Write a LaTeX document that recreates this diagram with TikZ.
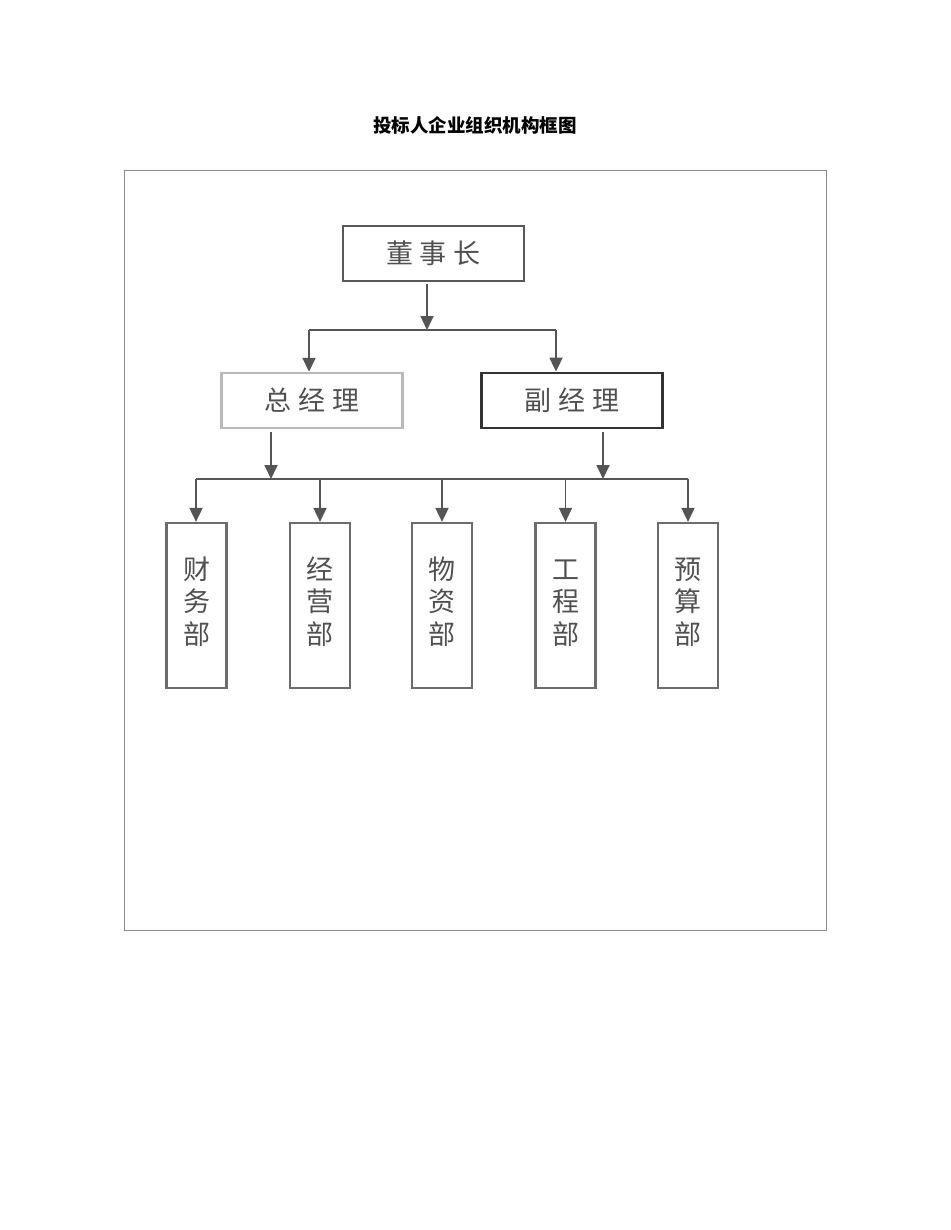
\documentclass[tikz,border=0pt]{standalone}
\usepackage{fontspec}
\newfontfamily\cjk{Noto Sans CJK SC}
\usetikzlibrary{arrows.meta}
\definecolor{linegray}{HTML}{555555}
\definecolor{framegray}{HTML}{8A8A8A}
\definecolor{txtgray}{HTML}{505050}
\newcommand{\vchars}[3]{\raisebox{7pt}{\begin{tabular}{@{}c@{}}#1\\#2\\#3\end{tabular}}}
\tikzset{
  conn/.style={draw=linegray, line width=1.8pt},
  arr/.style={conn, -{Triangle[width=13pt,length=14pt]}, shorten >=0pt},
  topbox/.style={draw=#1, rectangle, line width=2.4pt, minimum width=181pt, minimum height=55pt, inner sep=0pt, font=\cjk\fontsize{27}{30}\selectfont, text=txtgray},
  deptbox/.style={draw=gray!85!black, rectangle, line width=2.2pt, minimum width=60pt, minimum height=165pt, inner sep=0pt, font=\cjk\fontsize{27}{32}\selectfont, text=txtgray},
}
\begin{document}
\begin{tikzpicture}[x=1pt,y=-1pt]
\useasboundingbox (0,0) rectangle (950,1230);
\node[font=\cjk\bfseries\fontsize{18.5}{20}\selectfont] (title) at (475,125) {投标人企业组织机构框图};
\node[draw=framegray, line width=0.8pt, minimum width=702pt, minimum height=760pt, inner sep=0pt] (frame) at (475,550) {};
% top
\node[topbox=gray!70!black] (ceo) at (433.5,253.5) {董\hspace{7pt}事\hspace{7pt}长};
\node[topbox=gray!55] (gm) at (312,400.5) {总\hspace{7pt}经\hspace{7pt}理};
\node[topbox=gray!40!black, line width=2.8pt] (dgm) at (572,400.5) {副\hspace{7pt}经\hspace{7pt}理};
% departments
\node[deptbox] (d1) at (196.5,605.5) {\vchars{财}{务}{部}};
\node[deptbox] (d2) at (320,605.5) {\vchars{经}{营}{部}};
\node[deptbox] (d3) at (442,605.5) {\vchars{物}{资}{部}};
\node[deptbox] (d4) at (565.5,605.5) {\vchars{工}{程}{部}};
\node[deptbox] (d5) at (688,605.5) {\vchars{预}{算}{部}};
% junction coordinates
\coordinate (j0) at (427,330);
\coordinate (jl) at (309,330);
\coordinate (jr) at (556,330);
\coordinate (k1) at (196,479);
\coordinate (k5) at (688,479);
\coordinate (kl) at (271,479);
\coordinate (kr) at (603,479);
% connectors
\draw[arr] (ceo.south -| j0) ++(0,2) -- (j0);
\draw[conn] (jl) -- (jr);
\draw[arr] (jl) -- (jl |- gm.north);
\draw[arr] (jr) -- (jr |- dgm.north);
\draw[arr] (gm.south -| kl) ++(0,3) -- (kl);
\draw[arr] (dgm.south -| kr) ++(0,3) -- (kr);
\draw[conn] (k1) -- (k5);
\draw[arr] (k1) -- (k1 |- d1.north);
\draw[arr] (d2.north |- k1) -- (d2.north);
\draw[arr] (d3.north |- k1) -- (d3.north);
\draw[arr] (d4.north |- k1) -- (d4.north);
\draw[arr] (k5) -- (k5 |- d5.north);
\end{tikzpicture}
\end{document}
